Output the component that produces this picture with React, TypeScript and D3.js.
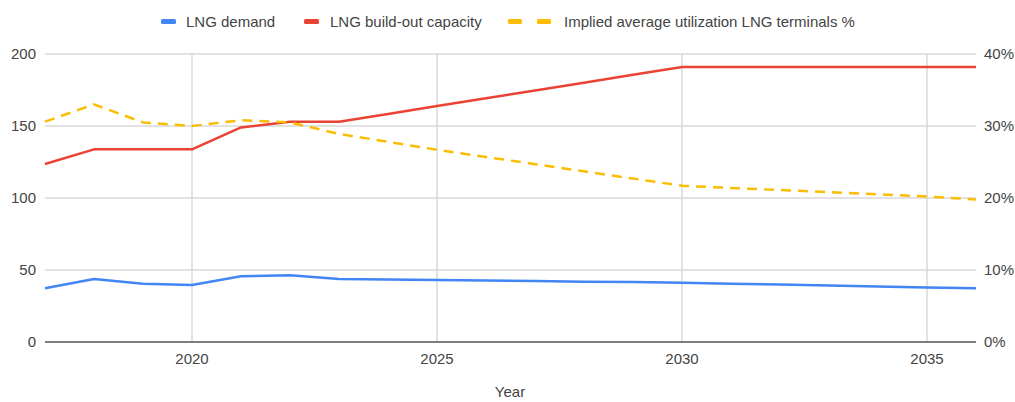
import React from "react";
import * as d3 from "d3";

const years = [2017,2018,2019,2020,2021,2022,2023,2024,2025,2026,2027,2028,2029,2030,2031,2032,2033,2034,2035,2036];
const lngDemand = [37.3,43.8,40.5,39.6,45.6,46.3,43.8,43.4,43.1,42.7,42.3,41.9,41.6,41.2,40.5,39.9,39.2,38.5,37.9,37.3];
const buildOut = [123.6,133.8,133.8,133.8,149,153,153,158.4,163.9,169.3,174.7,180.1,185.6,191,191,191,191,191,191,191];
const utilization = [30.6,33,30.5,30,30.8,30.5,28.9,27.8,26.7,25.7,24.7,23.7,22.7,21.7,21.4,21.1,20.8,20.5,20.2,19.8];
const leftTicks = [0,50,100,150,200];
const rightTicks = [0,10,20,30,40];
const xTicks = [2020,2025,2030,2035];

const FONT = "Arial, 'Liberation Sans', sans-serif";

export default function App() {
  const W = 1015, H = 402;
  const x = d3.scaleLinear().domain([2017, 2036]).range([45, 976]);
  const yL = d3.scaleLinear().domain([0, 200]).range([342, 54]);
  const yR = d3.scaleLinear().domain([0, 40]).range([342, 54]);
  const lineL = d3.line<number>().x((_, i) => x(years[i])).y(d => yL(d));
  const lineR = d3.line<number>().x((_, i) => x(years[i])).y(d => yR(d));

  return (
    <svg width={W} height={H} style={{ position: "absolute", left: 0, top: 0, background: "#fff" }} fontFamily={FONT}>
      {/* legend */}
      <g fontSize={15} fill="#444">
        <rect x={161} y={19} width={15} height={5} rx={1.5} fill="#4285F4" />
        <text x={186} y={27}>LNG demand</text>
        <rect x={304} y={19} width={15} height={5} rx={1.5} fill="#EA4335" />
        <text x={330} y={27}>LNG build-out capacity</text>
        <rect x={508} y={19} width={14} height={5} rx={1.5} fill="#FBBC04" />
        <rect x={537} y={19} width={14} height={5} rx={1.5} fill="#FBBC04" />
        <text x={564} y={27}>Implied average utilization LNG terminals %</text>
      </g>
      {/* grid */}
      {leftTicks.filter(t => t > 0).map(t => (
        <line key={"h" + t} x1={x(2017)} x2={x(2036)} y1={yL(t)} y2={yL(t)} stroke="#d9d9d9" strokeWidth={1.5} />
      ))}
      {xTicks.map(t => (
        <line key={"v" + t} x1={x(t)} x2={x(t)} y1={yL(200)} y2={yL(0)} stroke="#d9d9d9" strokeWidth={1.5} />
      ))}
      <line x1={x(2017)} x2={x(2036)} y1={yL(0)} y2={yL(0)} stroke="#555" strokeWidth={1.5} />
      {/* axis labels */}
      <g fontSize={15} fill="#444">
        {leftTicks.map(t => (
          <text key={"l" + t} x={36} y={yL(t) + 5} textAnchor="end">{t}</text>
        ))}
        {rightTicks.map(t => (
          <text key={"r" + t} x={984} y={yR(t) + 5}>{t}%</text>
        ))}
        {xTicks.map(t => (
          <text key={"x" + t} x={x(t)} y={364} textAnchor="middle">{t}</text>
        ))}
        <text x={510} y={397} textAnchor="middle">Year</text>
      </g>
      {/* series */}
      <path d={lineL(lngDemand) || ""} fill="none" stroke="#4285F4" strokeWidth={2.5} strokeLinejoin="round" />
      <path d={lineL(buildOut) || ""} fill="none" stroke="#EA4335" strokeWidth={2.5} strokeLinejoin="round" />
      <path d={lineR(utilization) || ""} fill="none" stroke="#FBBC04" strokeWidth={2.5} strokeDasharray="10,7" strokeLinejoin="round" />
    </svg>
  );
}
